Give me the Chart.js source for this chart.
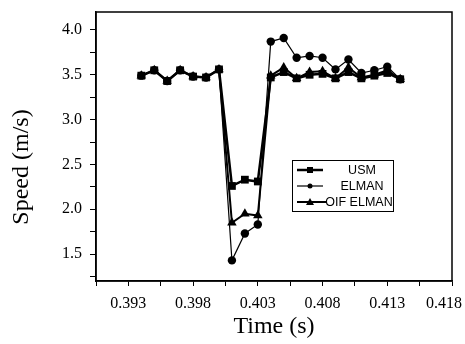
<!DOCTYPE html>
<html>
<head>
<meta charset="utf-8">
<script src="https://cdn.jsdelivr.net/npm/chart.js@4.4.0/dist/chart.umd.min.js"></script>
<style>
    html, body { margin: 0; padding: 0; background: #fff; }
    #wrap { width: 465px; height: 344px; position: relative; }
</style>
</head>
<body>
<div id="wrap"><canvas id="speed-chart"></canvas></div>
<script>
// --- Data ---
const times = [0.394, 0.395, 0.396, 0.397, 0.398, 0.399, 0.400, 0.401, 0.402, 0.403, 0.404,
               0.405, 0.406, 0.407, 0.408, 0.409, 0.410, 0.411, 0.412, 0.413, 0.414];
const usm = [3.49, 3.55, 3.43, 3.55, 3.48, 3.47, 3.56, 2.26, 2.33, 2.31, 3.47,
             3.53, 3.46, 3.50, 3.51, 3.46, 3.53, 3.46, 3.49, 3.52, 3.45];
const elman = [3.49, 3.55, 3.43, 3.55, 3.48, 3.47, 3.56, 1.43, 1.73, 1.83, 3.87,
               3.91, 3.69, 3.71, 3.69, 3.56, 3.67, 3.52, 3.55, 3.59, 3.45];
const oifElman = [3.49, 3.55, 3.43, 3.55, 3.48, 3.47, 3.56, 1.85, 1.95, 1.93, 3.49,
                  3.58, 3.46, 3.53, 3.54, 3.46, 3.58, 3.47, 3.50, 3.55, 3.45];
const seriesNames = ['USM', 'ELMAN', 'OIF ELMAN'];

const xTickLabels = ['0.393', '0.398', '0.403', '0.408', '0.413', '0.418'];
const yTickLabels = ['1.5', '2.0', '2.5', '3.0', '3.5', '4.0'];

const xMajor = xTickLabels.map(Number);
const yMajor = yTickLabels.map(Number);

// major ticks plus the unlabeled halfway ticks
const withMinor = (major, step, first) => {
    const out = [first];
    major.forEach(v => { out.push(v); out.push(v + step / 2); });
    return out;
};
const labelFor = (majors, labels) => (v) => {
    const i = majors.findIndex(m => Math.abs(m - v) < 1e-6);
    if (i < 0) return '';
    // the last x label sits pulled in from the edge, as in the print
    return (labels === xTickLabels && i === labels.length - 1) ? labels[i] + '\u2007\u2007' : labels[i];
};

const toPoints = (ys) => times.map((t, i) => ({ x: t, y: ys[i] }));

// --- Frame, boxed legend and y title drawn on the canvas ---
const framePlugin = {
    id: 'frameAndLegend',
    afterDraw(chart) {
        const ctx = chart.ctx;
        const a = chart.chartArea;
        ctx.save();
        ctx.strokeStyle = '#000';
        ctx.lineWidth = 1.5;
        ctx.strokeRect(a.left, a.top, a.right - a.left, a.bottom - a.top);

        // legend box
        const bx = a.left + 196, by = a.top + 148;
        ctx.lineWidth = 1;
        ctx.strokeRect(bx + 0.5, by + 0.5, 101, 51);
        ctx.fillStyle = '#000';
        ctx.font = '12.5px "Liberation Sans", Arial, sans-serif';
        ctx.textAlign = 'center';
        ctx.textBaseline = 'middle';
        seriesNames.forEach((name, i) => {
            const ds = chart.data.datasets.find(d => d.label === name);
            const y = by + 10 + i * 16;
            ctx.lineWidth = ds.borderWidth;
            ctx.beginPath();
            ctx.moveTo(bx + 5, y);
            ctx.lineTo(bx + (i === 2 ? 34 : 31), y);
            ctx.stroke();
            const cx = bx + 18;
            ctx.beginPath();
            if (ds.pointStyle === 'rect') {
                ctx.rect(cx - 3, y - 3, 6, 6);
            } else if (ds.pointStyle === 'circle') {
                ctx.arc(cx, y, 2.5, 0, Math.PI * 2);
            } else {
                ctx.moveTo(cx, y - 4);
                ctx.lineTo(cx + 4, y + 3);
                ctx.lineTo(cx - 4, y + 3);
                ctx.closePath();
            }
            ctx.fill();
            ctx.fillText(name, bx + (i === 2 ? 67 : 70), y + 1);
        });

        // y axis title
        ctx.font = '24px "Liberation Serif", "Times New Roman", serif';
        ctx.translate(22, 167);
        ctx.rotate(-Math.PI / 2);
        ctx.fillText('Speed (m/s)', 0, 0);
        ctx.restore();
    }
};

const tickFont = { family: '"Liberation Serif", "Times New Roman", serif', size: 16 };

new Chart(document.getElementById('speed-chart'), {
    type: 'line',
    data: {
        datasets: [
            {
                label: seriesNames[0],
                data: toPoints(usm),
                borderColor: '#000', backgroundColor: '#000',
                borderWidth: 2.5, pointStyle: 'rect', pointRadius: 5.5,
                pointBorderWidth: 0, tension: 0
            },
            {
                label: seriesNames[1],
                data: toPoints(elman),
                order: -1,
                borderColor: '#000', backgroundColor: '#000',
                borderWidth: 1.2, pointStyle: 'circle', pointRadius: 4.2,
                pointBorderWidth: 0, tension: 0
            },
            {
                label: seriesNames[2],
                data: toPoints(oifElman),
                borderColor: '#000', backgroundColor: '#000',
                borderWidth: 2, pointStyle: 'triangle', pointRadius: 5.5,
                pointBorderWidth: 0, tension: 0
            }
        ]
    },
    options: {
        responsive: true,
        maintainAspectRatio: false,
        animation: false,
        layout: { padding: { top: 12, right: 13, left: 0, bottom: 0 } },
        plugins: { legend: { display: false }, tooltip: { enabled: false } },
        scales: {
            x: {
                type: 'linear',
                min: 0.3905, max: 0.418,
                afterBuildTicks: (scale) => {
                    scale.ticks = withMinor(xMajor, 0.005, 0.3905).filter(v => v <= 0.418 + 1e-9).map(v => ({ value: v }));
                },
                afterFit: (scale) => {
                    scale.height = 63;
                    scale.paddingLeft = 0;
                    scale.paddingRight = 0;
                },
                grid: { drawOnChartArea: false, drawTicks: true, tickLength: 5, color: '#000', lineWidth: 1 },
                border: { display: true, color: '#000', width: 1.5 },
                ticks: {
                    color: '#000', font: tickFont, padding: 8,
                    autoSkip: false, maxRotation: 0,
                    callback: labelFor(xMajor, xTickLabels)
                },
                title: {
                    display: true, text: 'Time (s)', color: '#000',
                    font: { family: '"Liberation Serif", "Times New Roman", serif', size: 24 },
                    padding: { top: 0, bottom: 3 }
                }
            },
            y: {
                min: 1.2, max: 4.2,
                afterBuildTicks: (scale) => {
                    scale.ticks = withMinor(yMajor, 0.5, 1.25).filter(v => v <= 4.2).map(v => ({ value: v }));
                },
                afterFit: (scale) => {
                    scale.width = 96;
                    scale.paddingTop = 0;
                    scale.paddingBottom = 0;
                },
                grid: { drawOnChartArea: false, drawTicks: true, tickLength: 6, color: '#000', lineWidth: 1 },
                border: { display: true, color: '#000', width: 1.5 },
                ticks: {
                    color: '#000', font: tickFont, padding: 8,
                    autoSkip: false,
                    callback: labelFor(yMajor, yTickLabels)
                }
            }
        }
    },
    plugins: [framePlugin]
});
</script>
</body>
</html>
